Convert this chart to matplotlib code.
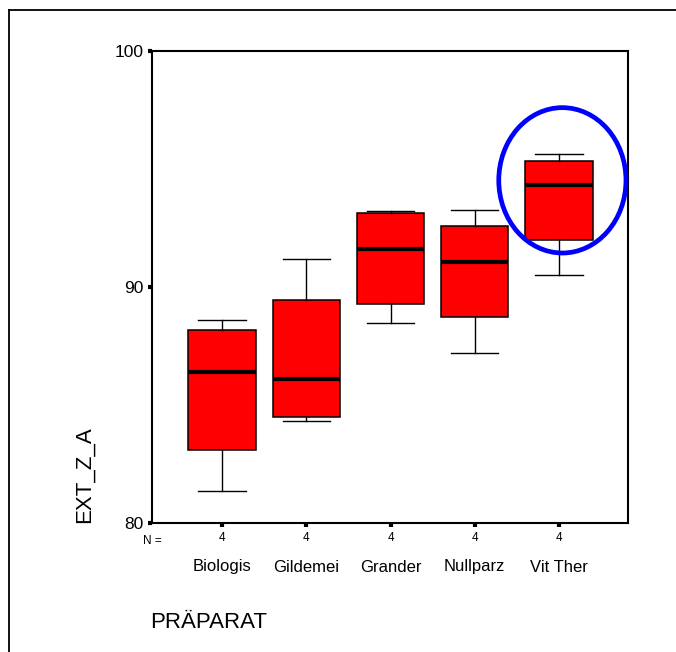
import matplotlib
matplotlib.use("Agg")
import matplotlib.pyplot as plt
from matplotlib.patches import Ellipse
from matplotlib.lines import Line2D
import matplotlib.transforms as mtransforms

plt.rcParams['font.family'] = ['Liberation Sans', 'DejaVu Sans']

categories = ["Biologis", "Gildemei", "Grander", "Nullparz", "Vit Ther"]
n_counts = [4, 4, 4, 4, 4]
whislo = [81.34, 84.33, 88.46, 87.20, 90.51]
q1 = [83.11, 84.48, 89.29, 88.74, 91.98]
med = [86.39, 86.09, 91.60, 91.05, 94.31]
q3 = [88.19, 89.45, 93.14, 92.58, 95.35]
whishi = [88.60, 91.19, 93.22, 93.26, 95.65]
y_ticks = [80, 90, 100]
highlight = "Vit Ther"

W, H = 676, 652
fig = plt.figure(figsize=(W / 100, H / 100), dpi=100)
ax = fig.add_axes([152 / W, 1 - 523 / H, (628 - 152) / W, (523 - 51) / H])

stats = []
for i, c in enumerate(categories):
    stats.append(dict(label=c, whislo=whislo[i], q1=q1[i], med=med[i],
                      q3=q3[i], whishi=whishi[i], fliers=[]))
positions = list(range(1, len(categories) + 1))
ax.bxp(stats, positions=positions, widths=0.8, capwidths=0.56,
       showfliers=False, patch_artist=True,
       boxprops=dict(facecolor='#ff0000', edgecolor='black', linewidth=1.1),
       medianprops=dict(color='black', linewidth=3.0, solid_capstyle='butt'),
       whiskerprops=dict(color='black', linewidth=1.0),
       capprops=dict(color='black', linewidth=1.0))

ax.set_xlim(0.169, 5.819)
ax.set_ylim(80, 100)
ax.set_yticks(y_ticks)
ax.set_yticklabels([str(t) for t in y_ticks], fontsize=12.5)
ax.set_xticks(positions)
ax.set_xticklabels([str(n) for n in n_counts], fontsize=8.5)
ax.tick_params(axis='both', direction='out', length=3, width=3, pad=3)
ax.tick_params(axis='x', pad=3.5)
for s in ax.spines.values():
    s.set_linewidth(1.5)

# category names row and N = label
trans = mtransforms.blended_transform_factory(ax.transData, fig.transFigure)
for p, c in zip(positions, categories):
    ax.text(p, 1 - 567 / H, c, transform=trans, ha='center', va='center', fontsize=12)
trans2 = mtransforms.blended_transform_factory(ax.transAxes, fig.transFigure)
ax.text(0, 1 - 540.5 / H, "N =", transform=trans2, ha='center', va='center', fontsize=8.5)

# axis titles
fig.text(84 / W, 1 - 523 / H, "EXT_Z_A", rotation=90, ha='center', va='bottom', fontsize=16)
fig.text(150 / W, 1 - 622 / H, "PRÄPARAT", ha='left', va='center', fontsize=16)

# highlight ellipse
hi = categories.index(highlight) + 1
ell = Ellipse((hi + 0.04, 94.52), width=1.51, height=6.16, fill=False,
              edgecolor='#0000ff', linewidth=3.4, clip_on=False, zorder=5)
ax.add_patch(ell)

# figure frame (left and top edges)
fig.add_artist(Line2D([8.5 / W, 8.5 / W], [0, 1 - 10 / H], transform=fig.transFigure,
                      color='black', linewidth=1.3))
fig.add_artist(Line2D([8.5 / W, 1], [1 - 10 / H, 1 - 10 / H], transform=fig.transFigure,
                      color='black', linewidth=1.3))

fig.savefig("out.png", dpi=100)
